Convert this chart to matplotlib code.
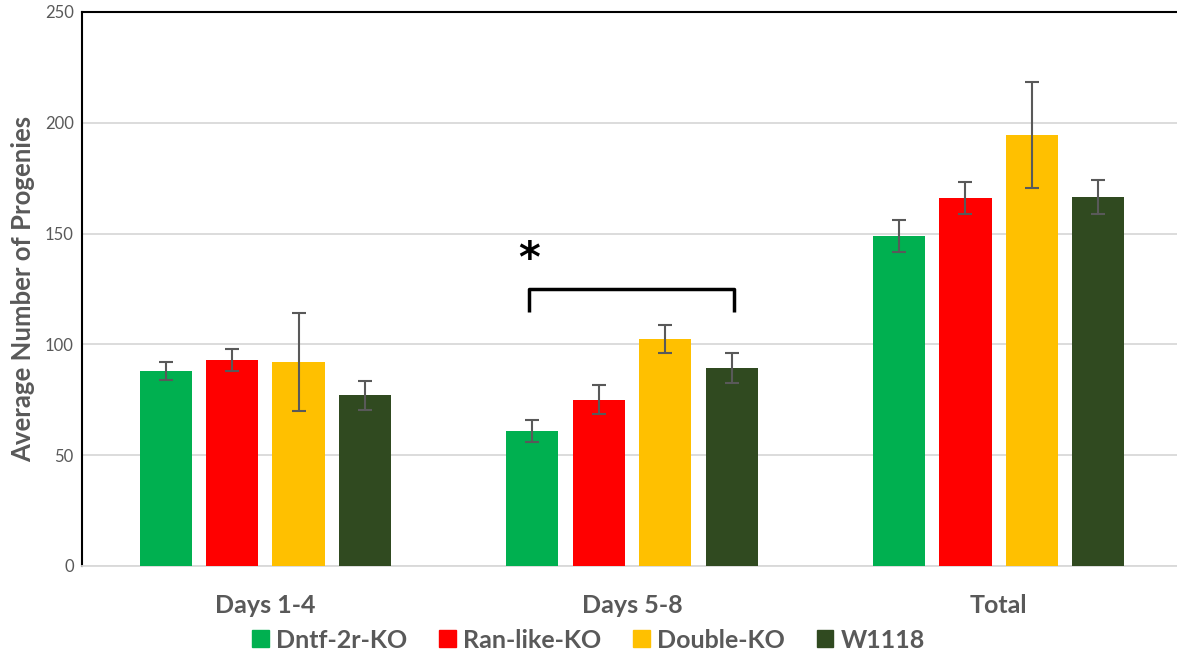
import numpy as np
import matplotlib
matplotlib.use('Agg')
import matplotlib.pyplot as plt
from matplotlib.patches import Patch

plt.rcParams['font.family'] = ['Lato', 'DejaVu Sans']

groups = ['Days 1-4', 'Days 5-8', 'Total']
strains = ['Dntf-2r-KO', 'Ran-like-KO', 'Double-KO', 'W1118']
colors = ['#00B050', '#FF0000', '#FFC000', '#304A20']

means = {
    'Dntf-2r-KO':  [88, 61, 149],
    'Ran-like-KO': [93, 75, 166],
    'Double-KO':   [92, 102.5, 194.5],
    'W1118':       [77, 89.5, 166.5],
}
errs = {
    'Dntf-2r-KO':  [4, 5, 7.3],
    'Ran-like-KO': [4.8, 6.5, 7.3],
    'Double-KO':   [22, 6.3, 23.7],
    'W1118':       [6.5, 6.7, 7.7],
}

gray = '#595959'
fig = plt.figure(figsize=(11.77, 6.53), dpi=100)
ax = fig.add_axes([82 / 1177, 87 / 653, 1100 / 1177, 554 / 653])

index = np.arange(len(groups))
bar_width = 0.142
step = 0.181
for i, s in enumerate(strains):
    off = (i - 1.5) * step
    ax.bar(index + off, means[s], bar_width, color=colors[i], label=s,
           yerr=errs[s], capsize=5, zorder=3,
           error_kw={'ecolor': gray, 'elinewidth': 1.5, 'capthick': 1.5})

# significance bracket
bx0, bx1 = 0.718, 1.279
ax.plot([bx0, bx0, bx1, bx1], [114.5, 125, 125, 114.5], color='black', lw=2.5,
        solid_joinstyle='round', solid_capstyle='butt', zorder=4)
ax.text(0.72, 138, '*', fontsize=30, fontweight='bold', ha='center', va='center',
        family='DejaVu Sans')

ax.set_xlim(-0.5, 2.5)
ax.set_ylim(0, 250)
ax.set_yticks([0, 50, 100, 150, 200, 250])
ax.set_xticks(index)
ax.set_xticklabels(groups, fontsize=18, fontweight='bold', color=gray)
ax.tick_params(axis='y', labelsize=12, labelcolor=gray, length=0, pad=6)
ax.tick_params(axis='x', length=0, pad=20)
ax.set_ylabel('Average Number of Progenies', fontsize=18.5, fontweight='bold', color=gray, labelpad=7)
ax.grid(axis='y', color='#d9d9d9', lw=1.3, zorder=0)
ax.set_axisbelow(True)
for sp in ['left', 'top']:
    ax.spines[sp].set_color('black')
    ax.spines[sp].set_linewidth(1.5)
ax.spines['right'].set_visible(False)
ax.spines['bottom'].set_color('#d9d9d9')
ax.spines['bottom'].set_linewidth(1.3)

handles = [Patch(color=c, label=s) for c, s in zip(colors, strains)]
leg = fig.legend(handles=handles, loc='center', bbox_to_anchor=(0.5, 1 - 640 / 653),
                 ncol=4, frameon=False, handlelength=0.65, handleheight=0.65,
                 handletextpad=0.28, columnspacing=1.3, borderpad=0,
                 prop={'size': 18, 'weight': 'bold'})
for t in leg.get_texts():
    t.set_color(gray)

fig.savefig('out.png', dpi=100)
